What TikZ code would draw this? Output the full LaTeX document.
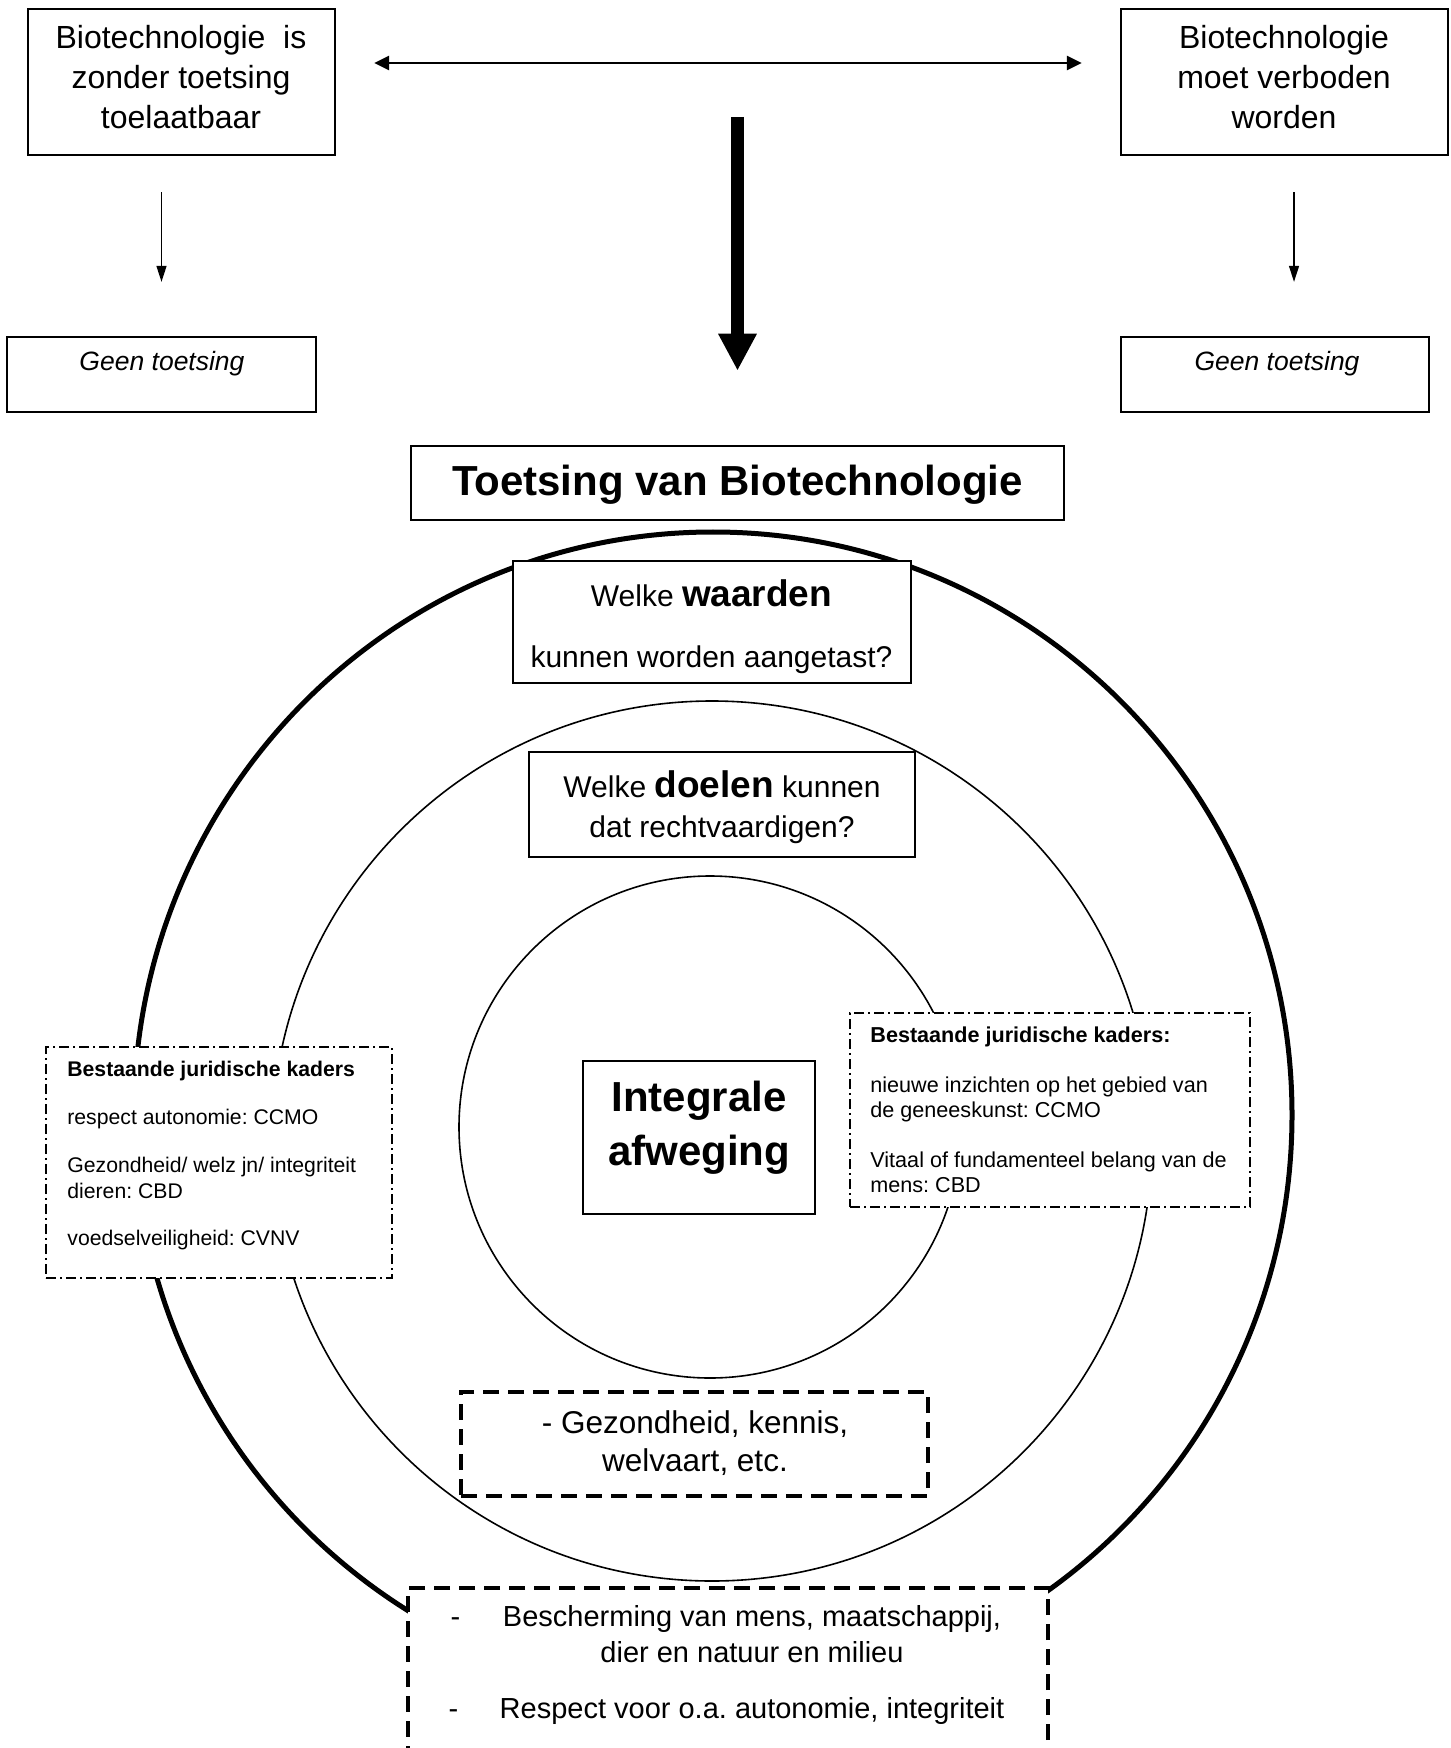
\documentclass[tikz,border=0pt]{standalone}
\usepackage{fontspec}
\setmainfont{Liberation Sans}
\usetikzlibrary{arrows.meta,calc}
\newcommand\myfs[2]{\fontsize{#1}{#2}\selectfont}
\frenchspacing
\begin{document}
\begin{tikzpicture}[x=0.5pt,y=-0.5pt,
  frame/.style={draw, line width=1.15pt, fill=white, inner sep=0pt},
  ddframe/.style={draw, line width=1.3pt, fill=white, inner sep=0pt, dash pattern=on 5pt off 2pt on 1pt off 2pt},
  dframe/.style={draw, line width=1.6pt, fill=white, inner sep=0pt, dash pattern=on 8pt off 4.5pt},
  txt/.style={inner sep=0pt, align=center},
  ltxt/.style={inner sep=0pt, align=left},
  thinarrow/.style={line width=0.65pt, -{Triangle[length=8pt,width=5pt]}},
  dblarrow/.style={line width=1.35pt, {Triangle[length=7.5pt,width=7pt]}-{Triangle[length=7.5pt,width=7pt]}},
  bigarrow/.style={line width=6.5pt, -{Triangle[length=18.5pt,width=18pt]}},
  thickring/.style={line width=2.5pt},
  thinring/.style={line width=0.8pt}
]
\useasboundingbox (0,0) rectangle (1450,1748);
\clip (0,0) rectangle (1450,1748);

% rings
\draw[thickring] (713,1115) ellipse [x radius=579, y radius=583];
\draw[thinring] (712,1141) circle [radius=440];
\draw[thinring] (710,1127) circle [radius=251];

% top boxes
\node[frame, minimum width=153.5pt, minimum height=73pt] (tl) at (181.5,82) {};
\node[txt, anchor=north, font=\myfs{16pt}{20pt}] (tlt) at (181,25) {Biotechnologie\ \ is\\zonder toetsing\\toelaatbaar};
\node[frame, minimum width=163.5pt, minimum height=73pt] (tr) at (1284.5,82) {};
\node[txt, anchor=north, font=\myfs{16pt}{20pt}] (trt) at (1284,25) {Biotechnologie\\moet verboden\\worden};

\node[frame, minimum width=154.5pt, minimum height=37.5pt] (gl) at (161.5,374.5) {};
\node[txt, anchor=base, font=\myfs{13.25pt}{16pt}\itshape] (glt) at (162,371) {Geen toetsing};
\node[frame, minimum width=154pt, minimum height=37.5pt] (gr) at (1275,374.5) {};
\node[txt, anchor=base, font=\myfs{13.25pt}{16pt}\itshape] (grt) at (1277,371) {Geen toetsing};

\node[frame, line width=1.25pt, minimum width=326.5pt, minimum height=37pt] (title) at (737.5,483) {};
\node[txt, anchor=base, font=\myfs{21pt}{25pt}\bfseries] (titlet) at (737.5,495) {Toetsing van Biotechnologie};

% arrows
\draw[dblarrow] ($(tl.east)+(38,-19)$) -- ($(tr.west)+(-38,-19)$);
\draw[thinarrow] ($(gl.north |- tl.south)+(0,36)$) -- ($(gl.north)+(0,-54)$);
\draw[thinarrow] ($(tr.south)+(9.5,36)$) -- ($(tr.south |- gr.north)+(9.5,-54)$);
\coordinate (tastart) at (737.5,117);
\draw[bigarrow] (tastart) -- ($(title.north)+(0,-74)$);

% boxes on the rings
\node[frame, minimum width=199pt, minimum height=61pt] (waarden) at (712,622) {};
\node[txt, anchor=north, font=\myfs{15pt}{30.5pt}] (waardent) at (711.5,579.5) {Welke {\bfseries\myfs{18.5pt}{30.5pt}waarden}\\kunnen worden aangetast?};

\node[frame, minimum width=193pt, minimum height=52.5pt] (doelen) at (722,804.5) {};
\node[txt, anchor=north, font=\myfs{15pt}{20pt}] (doelent) at (722,770.5) {Welke {\bfseries\myfs{18.5pt}{20pt}doelen} kunnen\\dat rechtvaardigen?};

\node[frame, minimum width=116pt, minimum height=76.5pt] (integraal) at (699,1137.5) {};
\node[txt, anchor=north, font=\myfs{21pt}{27pt}\bfseries] (integraalt) at (699,1081) {Integrale\\afweging};

\node[ddframe, minimum width=173pt, minimum height=115.5pt] (lbox) at (219,1162.5) {};
\node[ltxt, anchor=north west, font=\myfs{10.6pt}{13pt}] (lboxt) at (67,1060.8) {\textbf{Bestaande juridische kaders}\\[11pt]respect autonomie: CCMO\\[11pt]Gezondheid/ welz jn/ integriteit\\dieren: CBD\\[10.5pt]voedselveiligheid: CVNV};

\node[ddframe, minimum width=200pt, minimum height=97pt] (rbox) at (1050,1110) {};
\node[ltxt, anchor=north west, font=\myfs{10.8pt}{12.5pt}] (rboxt) at (870,1026.5) {\textbf{Bestaande juridische kaders:}\\[12.5pt]nieuwe inzichten op het gebied van\\de geneeskunst: CCMO\\[12.5pt]Vitaal of fundamenteel belang van de\\mens: CBD};

\node[dframe, minimum width=233.5pt, minimum height=52pt] (gz) at (694.5,1444) {};
\node[txt, anchor=north, font=\myfs{15.75pt}{19pt}] (gzt) at (695,1410.4) {- Gezondheid, kennis,\\welvaart, etc.};

\node[dframe, minimum width=320pt, minimum height=106pt] (bb) at (728,1694) {};
\node[txt, anchor=north, font=\myfs{14.5pt}{18pt}] (bbt) at (752,1605) {Bescherming van mens, maatschappij,\\dier en natuur en milieu\\[10pt]Respect voor o.a. autonomie, integriteit};
\node[txt, anchor=base, font=\myfs{14.5pt}{18pt}] (bbd1) at (455.5,1626) {-};
\node[txt, anchor=base, font=\myfs{14.5pt}{18pt}] (bbd2) at (453.5,1718) {-};
\end{tikzpicture}
\end{document}
